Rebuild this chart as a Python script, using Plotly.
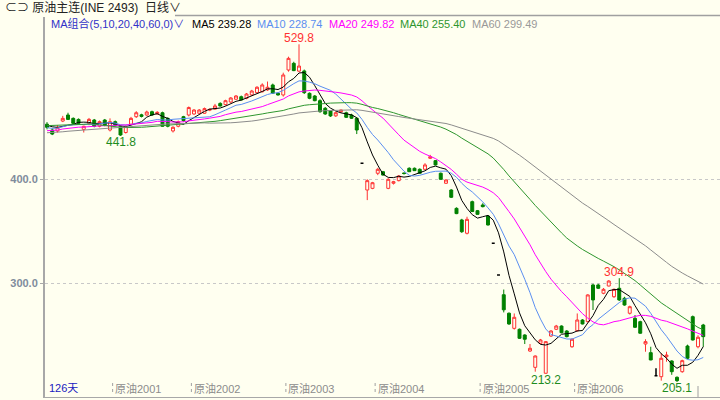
import pandas as pd
import plotly.graph_objects as go

# daily candles of 原油主连, 126 trading days
opens = [453, 447.4, 446.5, 456, 461.8, 458.6, 457.6, 448, 453.8, 457,
         451, 457, 447.4, 455.4, 451, 445, 453, 460.2, 462, 461.8,
         465, 463, 464, 458.6, 446.5, 451, 460.2, 461.8, 462.8, 463.5,
         463.5, 466.5, 467.5, 473, 471.8, 474.3, 477, 479.4, 477.9, 481.1,
         483.3, 484.2, 486, 490.7, 482.7, 481.1, 505.1, 511.5, 504, 504.2,
         482.7, 480.1, 475.6, 468.3, 465.7, 461, 465, 464, 461.8, 458.7,
         415.4, 389.7, 391.3, 405.8, 407.3, 391.3, 396.2, 398.7, 406, 410.6,
         410.6, 409.6, 409.6, 420.2, 417.9, 405.8, 396.2, 389.7, 372.1, 360.9,
         348.1, 378.5, 369.8, 375.3, 364.7, 338.5, 308, 289, 271.2, 256.7,
         255.8, 250.3, 234.9, 219.2, 242.3, 213.5, 249.3, 255.8, 258.9, 254.1,
         239, 254.4, 264.7, 263.1, 298.4, 298.4, 290.4, 297.4, 287.1, 295.2,
         285.6, 271.2, 266.3, 263.1, 241.6, 233.3, 211, 210.2, 229.4, 225.3,
         209.6, 215, 239.7, 267.9, 239, 259.9]
highs = [455, 449, 452, 461, 464, 459.5, 458.5, 451.5, 459, 458,
         456.5, 458, 458.6, 456.5, 452, 452, 460, 465.5, 463, 466,
         466, 465.5, 465, 459.5, 451, 456.5, 461, 470, 467.5, 467.5,
         469, 468, 472.5, 474, 476.5, 479, 481, 480.5, 483, 486,
         489.5, 492.3, 494, 492, 483.5, 502.5, 517.9, 513, 529.8, 505.5,
         483.5, 481, 477, 469.5, 466.5, 465, 467, 465, 463, 459.5,
         415.4, 400, 397.5, 411, 408, 401, 398.5, 404, 406.5, 411.5,
         411.3, 410.5, 415.5, 423.5, 418.5, 406.5, 400, 390.5, 373, 362,
         364, 379.5, 370.5, 377, 365.5, 338.5, 308, 294, 272, 271,
         256.5, 251, 241.6, 230.6, 246.5, 244.5, 255, 260, 259.5, 255,
         247, 271, 265.5, 289.5, 299.5, 299.5, 295.5, 303, 295, 304.9,
         287, 278.5, 269.5, 264, 246.2, 239, 218.3, 232.7, 234.2, 226,
         210.5, 226.5, 241, 269, 250, 261]
lows = [448, 442.5, 445, 455, 457, 453, 453, 445, 452, 450,
        450, 451, 446, 451, 441.8, 444, 452, 459, 459.5, 461,
        461, 462, 450.5, 450, 445, 450, 455.5, 460.5, 462, 463,
        463, 465.5, 467, 470, 471, 473.5, 476.5, 476, 477, 480.5,
        482.5, 483.5, 485, 482, 480.5, 479.5, 503.5, 504, 503, 482,
        477, 475, 464, 462, 460, 460, 464, 459, 458, 443.5,
        415.4, 380, 390.5, 404, 403.5, 390.5, 395, 398, 404.5, 407,
        408, 405.5, 409, 419.5, 413.5, 399.5, 395.5, 382, 366.5, 348.5,
        347, 368.5, 366, 373, 355.5, 338.5, 308, 272, 260, 255.5,
        246.5, 241.6, 234, 215, 241.5, 213.2, 248.5, 255, 252, 248,
        238, 253.5, 260.5, 262.5, 274.3, 294.5, 289.5, 297, 286, 283,
        278.5, 270, 257, 251.5, 234.2, 226, 211, 206.4, 224.6, 212,
        205.1, 214, 227, 245, 237.5, 239]
closes = [450, 443.5, 450, 458.6, 457.6, 453.8, 453.8, 451, 457.6, 451,
          455.4, 452, 455.4, 452, 442.6, 451, 458.6, 464, 460.5, 464.7,
          461.8, 464.4, 451, 451, 450, 455.4, 456.4, 469, 466.6, 466.6,
          468, 467.2, 470.5, 470.5, 475.6, 478.2, 480.1, 476.3, 482, 484.9,
          488.5, 490.7, 488.5, 482.7, 481.1, 500.3, 516.3, 504.5, 508.9, 483.3,
          477.9, 475.6, 465, 462.8, 460.9, 464, 466.6, 459.6, 458.7, 447.4,
          415.4, 398.7, 396.7, 409.6, 404.1, 400, 397.7, 403.2, 405.6, 407.3,
          408.3, 405.8, 413.8, 421.7, 413.8, 400, 399.3, 382.7, 367, 349.6,
          361.5, 369, 366.3, 373.7, 356.1, 338.5, 308, 274.5, 260.9, 267.3,
          247.1, 246.2, 237.5, 230.1, 245.5, 243.9, 254.1, 258.9, 252.5, 248.7,
          246.2, 264.7, 260.9, 288.8, 284, 295.2, 294.2, 302.2, 294.2, 284,
          279.1, 277.5, 257.7, 252, 243.9, 226.3, 211, 227.9, 231, 215,
          206.4, 225.6, 227.9, 245.5, 248.1, 248.7]

# closes before the visible window, only needed to warm up the long averages
prior_closes = [438, 432, 428, 425, 430, 427, 424, 428, 431, 429,
                426, 430, 434, 432, 429, 433, 436, 438, 435,
                437, 440, 443, 446, 448, 445, 447, 449, 446, 452,
                488, 482, 476, 470, 466, 462, 460, 457, 455, 452,
                446, 442, 440, 438, 441, 443, 446, 449, 447, 445,
                448, 450, 447, 444, 446, 449, 451, 453, 452, 454]

ma_periods = [5, 10, 20, 40, 60]
ma_labels = ["MA5 239.28", "MA10 228.74", "MA20 249.82", "MA40 255.40", "MA60 299.49"]
ma_colors = ["#000000", "#5b8ff0", "#ff00ff", "#2e962e", "#8c8c8c"]

contract_names = ["原油2001", "原油2002", "原油2003", "原油2004", "原油2005", "原油2006"]
contract_days = [13, 28, 46, 63, 83, 101]

extreme_days = [48, 14, 95, 109, 120]
extreme_values = [529.8, 441.8, 213.2, 304.9, 205.1]
extreme_is_high = [True, False, False, True, False]

BG = "#fffff0"
UP = "#ff3232"
DOWN = "#008000"
FONT = "Liberation Sans, Noto Sans CJK SC, sans-serif"

df = pd.DataFrame({"day": range(len(closes)), "open": opens, "high": highs,
                   "low": lows, "close": closes})
all_closes = pd.Series(prior_closes + closes)
for p in ma_periods:
    df[f"ma{p}"] = all_closes.rolling(p).mean().iloc[len(prior_closes):].values

normal = df[df.open != df.close]
flat = df[df.open == df.close]

fig = go.Figure()
fig.add_trace(go.Candlestick(
    x=normal.day, open=normal.open, high=normal.high, low=normal.low, close=normal.close,
    increasing=dict(line=dict(color=UP, width=1), fillcolor=BG),
    decreasing=dict(line=dict(color=DOWN, width=1), fillcolor=DOWN),
    whiskerwidth=0, showlegend=False))
# limit days and dojis are drawn in black
fig.add_trace(go.Candlestick(
    x=flat.day, open=flat.open, high=flat.high, low=flat.low, close=flat.close,
    increasing=dict(line=dict(color="#000000", width=1.5), fillcolor="#000000"),
    decreasing=dict(line=dict(color="#000000", width=1.5), fillcolor="#000000"),
    whiskerwidth=0, showlegend=False))

for p, c in zip(ma_periods, ma_colors):
    fig.add_trace(go.Scatter(x=df.day, y=df[f"ma{p}"], mode="lines",
                             line=dict(color=c, width=1), showlegend=False))

L, T, B = 45, 17, 397
W, H = 720 - L, B - T


def px(x):
    return (x - L) / W


def py(y):
    return (B - y) / H


# header rows
fig.add_annotation(x=px(3), y=py(7.5), xref="paper", yref="paper", xanchor="left",
                   yanchor="middle", text="⊂⊃ 原油主连(INE 2493)  日线∨", showarrow=False,
                   font=dict(family=FONT, size=12, color="#222222"))
fig.add_shape(type="line", xref="paper", yref="paper", x0=px(175), x1=1,
              y0=py(15.5), y1=py(15.5), line=dict(color="#a0a0a0", width=1.5))

legend_items = ["MA组合(5,10,20,40,60,0)∨"] + ma_labels
legend_colors = ["#3232c8"] + ma_colors[:4] + ["#999999"]
legend_x = [49, 190, 255, 327, 398, 470]
for t, c, x in zip(legend_items, legend_colors, legend_x):
    fig.add_annotation(x=px(x), y=py(23.5), xref="paper", yref="paper", xanchor="left",
                       yanchor="middle", text=t, showarrow=False,
                       font=dict(family=FONT, size=11, color=c))

# high / low markers
for d, v, hi in zip(extreme_days, extreme_values, extreme_is_high):
    fig.add_annotation(x=d, y=v, text=f"{v:.1f}", showarrow=False,
                       yanchor="bottom" if hi else "top", yshift=-3 if hi else 3,
                       font=dict(family=FONT, size=12, color=UP if hi else "#1e8c1e"))

# bottom axis labels
fig.add_annotation(x=px(47), y=py(388), xref="paper", yref="paper", xanchor="left",
                   yanchor="middle", text=f"{len(closes)}天", showarrow=False,
                   font=dict(family=FONT, size=11, color="#2020c0"))
for name, d in zip(contract_names, contract_days):
    fig.add_shape(type="line", x0=d - 0.5, x1=d - 0.5, yref="paper", y0=py(392), y1=py(383),
                  line=dict(color="#a0a0a0", width=1, dash="dot"))
    fig.add_annotation(x=d - 0.4, y=py(388), yref="paper", xanchor="left", yanchor="middle",
                       text=name, showarrow=False,
                       font=dict(family=FONT, size=11, color="#8c8c8c"))
fig.add_shape(type="line", x0=124, x1=124, yref="paper", y0=0, y1=py(386),
              line=dict(color="#a0a0a0", width=1))

fig.update_layout(
    width=720, height=400,
    margin=dict(l=L, r=0, t=T, b=400 - B),
    paper_bgcolor=BG, plot_bgcolor=BG,
    font=dict(family=FONT),
    boxgap=0.2,
    xaxis=dict(range=[-0.381, 128.19], showgrid=False, zeroline=False,
               showticklabels=False, rangeslider=dict(visible=False),
               showline=True, linecolor="#a8a8a8", linewidth=1),
    yaxis=dict(range=[190.67, 556.06], tickvals=[300, 400], ticktext=["300.0", "400.0"],
               tickfont=dict(family=FONT, size=11, color="#7f8c9c", weight="bold"),
               ticks="outside", ticklen=3, tickcolor="#a8a8a8",
               showgrid=True, gridcolor="#c8c8c8", griddash="3px,3px", gridwidth=1,
               zeroline=False, showline=True, linecolor="#a8a8a8", linewidth=2),
)

fig.write_html("out.html", config={"displayModeBar": False},
               post_script="document.body.style.margin = '0';")
